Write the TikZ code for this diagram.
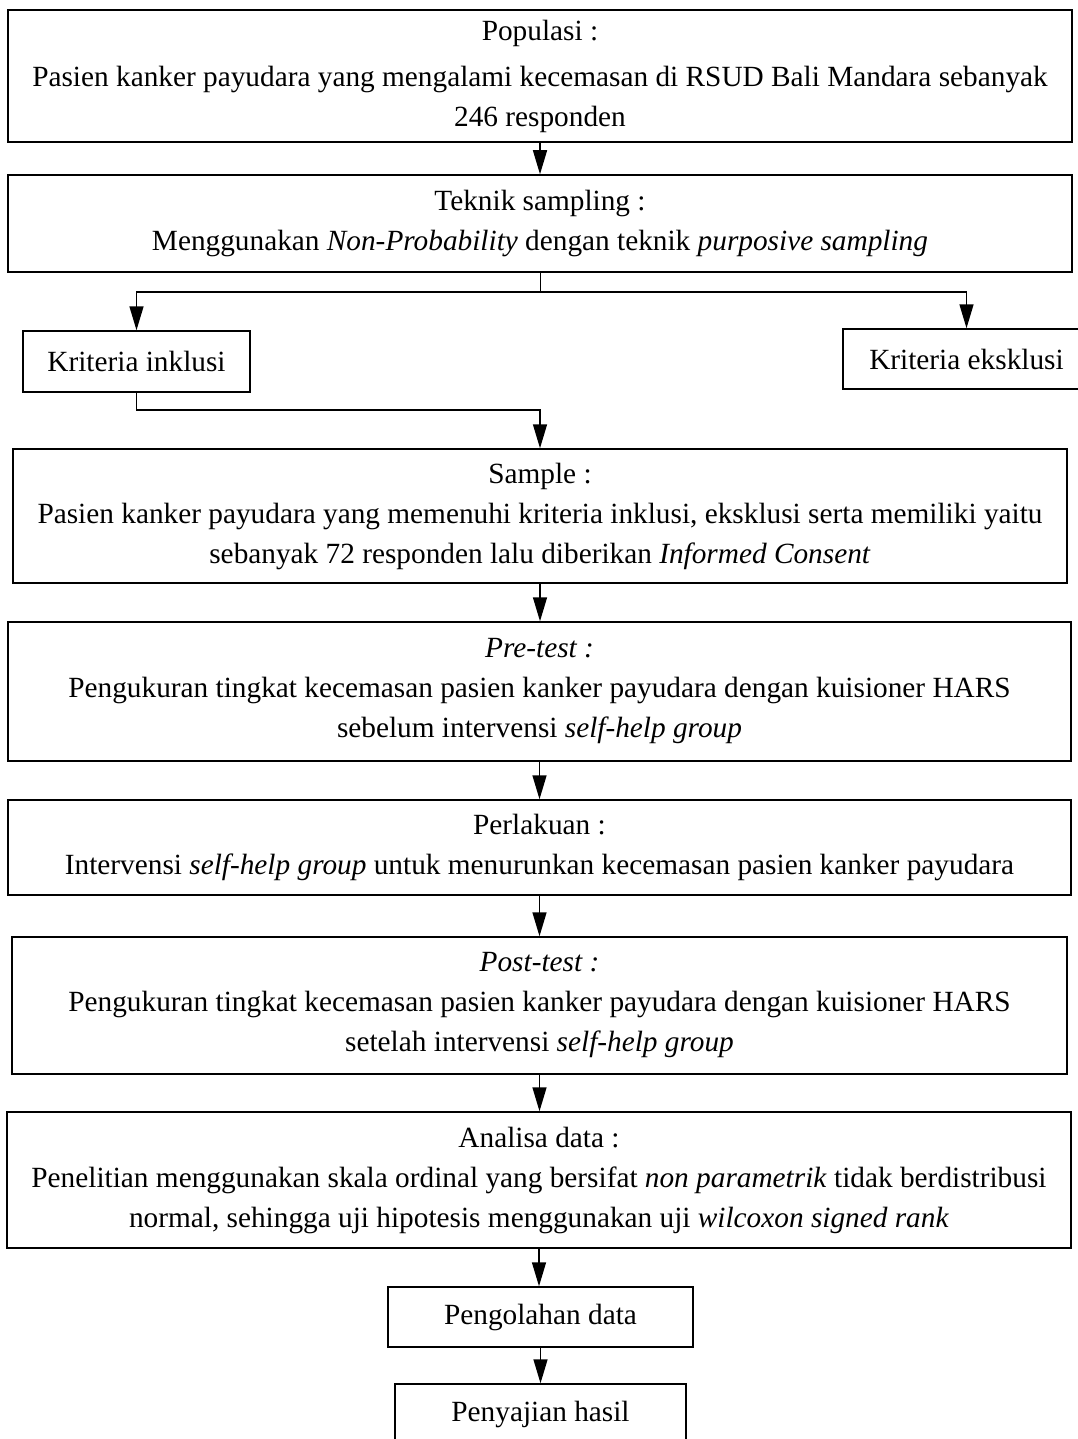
\documentclass[tikz,border=0pt]{standalone}
\usepackage{fontspec}
\setmainfont{Liberation Serif}
\usetikzlibrary{arrows.meta,positioning}

\begin{document}
\begin{tikzpicture}[x=1pt,y=-1pt,
  flowbox/.style={draw,line width=1.5pt,align=center,inner sep=0pt,font=\fontsize{29.3}{40}\selectfont},
  flowarrow/.style={line width=1.5pt,-{Triangle[length=24pt,width=14pt]}}]
  \useasboundingbox (0,0) rectangle (1077,1439);
  % main column
  \node[flowbox,minimum width=1064pt,minimum height=132pt] (populasi) at (540,76) {Populasi :\\[6pt]Pasien kanker payudara yang mengalami kecemasan di RSUD Bali Mandara sebanyak\\246 responden};
  \node[flowbox,minimum width=1064pt,minimum height=97pt] (teknik) at (540,223.5) {Teknik sampling :\\Menggunakan \textit{Non-Probability} dengan teknik \textit{purposive sampling}};
  \node[flowbox,minimum width=227pt,minimum height=61pt] (inklusi) at (136.5,361.5) {Kriteria inklusi};
  \node[flowbox,minimum width=247pt,minimum height=60pt] (eksklusi) at (966.5,359) {Kriteria eksklusi};
  \node[flowbox,minimum width=1054pt,minimum height=134pt] (sample) at (540,516) {Sample :\\Pasien kanker payudara yang memenuhi kriteria inklusi, eksklusi serta memiliki yaitu\\sebanyak 72 responden lalu diberikan \textit{Informed Consent}};
  \node[flowbox,minimum width=1063pt,minimum height=139pt] (pretest) at (539.5,691.5) {\textit{Pre-test :}\\Pengukuran tingkat kecemasan pasien kanker payudara dengan kuisioner HARS\\sebelum intervensi \textit{self-help group}};
  \node[flowbox,minimum width=1063pt,minimum height=95pt] (perlakuan) at (539.5,847.5) {Perlakuan :\\Intervensi \textit{self-help group} untuk menurunkan kecemasan pasien kanker payudara};
  \node[flowbox,minimum width=1055pt,minimum height=137pt] (posttest) at (539.5,1005.5) {\textit{Post-test :}\\Pengukuran tingkat kecemasan pasien kanker payudara dengan kuisioner HARS\\setelah intervensi \textit{self-help group}};
  \node[flowbox,minimum width=1064pt,minimum height=136pt] (analisa) at (539,1180) {Analisa data :\\Penelitian menggunakan skala ordinal yang bersifat \textit{non parametrik} tidak berdistribusi\\normal, sehingga uji hipotesis menggunakan uji \textit{wilcoxon signed rank}};
  \node[flowbox,minimum width=305pt,minimum height=60pt] (pengolahan) at (540.5,1317) {Pengolahan data};
  \node[flowbox,minimum width=291pt,minimum height=61pt] (penyajian) at (540.5,1414.5) {Penyajian hasil};
  % branching
  \coordinate (split) at (540,292);
  \coordinate (join) at (540,410);
  \draw[flowarrow] (populasi.south) -- (populasi.south |- teknik.north);
  \draw[line width=0.8pt] (teknik.south) -- (split);
  \draw[flowarrow] (split) -| (inklusi.north);
  \draw[flowarrow] (split) -| (eksklusi.north);
  \draw[flowarrow] (inklusi.south) |- (join) -- (sample.north);
  \draw[flowarrow] (sample.south) -- (sample.south |- pretest.north);
  \draw[flowarrow] (pretest.south) -- (pretest.south |- perlakuan.north);
  \draw[flowarrow] (perlakuan.south) -- (perlakuan.south |- posttest.north);
  \draw[flowarrow] (posttest.south) -- (posttest.south |- analisa.north);
  \draw[flowarrow] (analisa.south) -- (analisa.south |- pengolahan.north);
  \draw[flowarrow] (pengolahan.south) -- (pengolahan.south |- penyajian.north);
\end{tikzpicture}
\end{document}
